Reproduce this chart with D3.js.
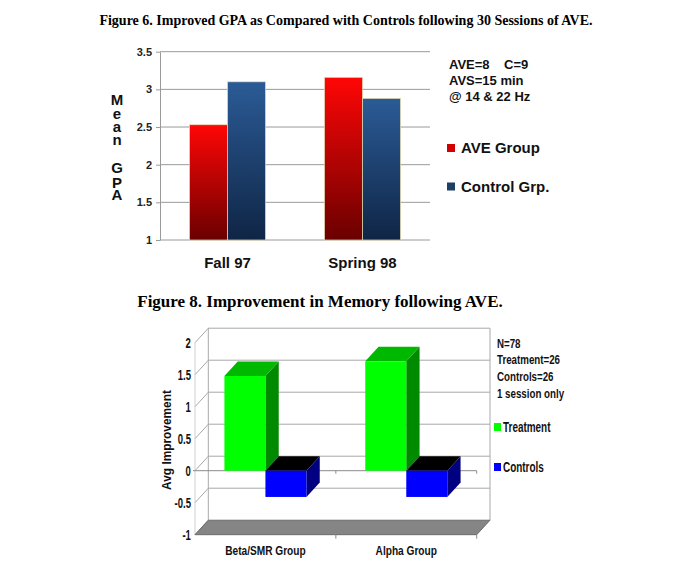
<!DOCTYPE html>
<html>
<head>
<meta charset="utf-8">
<script src="https://cdn.jsdelivr.net/npm/d3@7"></script>
<style>
  body { margin: 0; background: #fff; }
  svg { display: block; }
  .serif { font-family: "Liberation Serif", "Times New Roman", serif; font-weight: bold; }
  .sans { font-family: "Liberation Sans", Arial, sans-serif; font-weight: bold; }
</style>
</head>
<body>
<svg width="680" height="570"></svg>
<script>
// Figure 6 - средний GPA
const gpaTerms = ["Fall 97", "Spring 98"];
const gpaSeries = ["AVE Group", "Control Grp."];
const gpaAve = [2.53, 3.16];
const gpaControl = [3.10, 2.88];
const gpaTicks = [1, 1.5, 2, 2.5, 3, 3.5];
const gpaNotes = ["AVE=8    C=9", "AVS=15 min", "@ 14 & 22 Hz"];

// Figure 8 - память
const memGroups = ["Beta/SMR Group", "Alpha Group"];
const memSeries = ["Treatment", "Controls"];
const memTreatment = [1.48, 1.71];
const memControls = [-0.41, -0.41];
const memTicks = [-1, -0.5, 0, 0.5, 1, 1.5, 2];
const memNotes = ["N=78", "Treatment=26", "Controls=26", "1 session only"];

const svg = d3.select("svg");

// градиенты для первого графика
const defs = svg.append("defs");
function addGrad(id, top, bottom) {
    const g = defs.append("linearGradient").attr("id", id)
        .attr("x1", 0).attr("y1", 0).attr("x2", 0).attr("y2", 1);
    g.append("stop").attr("offset", "0%").attr("stop-color", top);
    g.append("stop").attr("offset", "100%").attr("stop-color", bottom);
}
addGrad("gRed", "#ff0606", "#6a0000");
addGrad("gBlue", "#2b5b96", "#0f2545");

// узкий шрифт: обычный Liberation Sans, сжатый по горизонтали
function narrow(parent, txt, x, y, size, sx, anchor, rot) {
    return parent.append("text").attr("class", "sans")
        .attr("transform", `translate(${x},${y})` + (rot ? ` rotate(${rot})` : "") + ` scale(${sx},1)`)
        .attr("text-anchor", anchor || "start")
        .style("font-size", size + "px").attr("fill", "#111")
        .text(txt);
}

// ---------- Figure 6 ----------
svg.append("text").attr("class", "serif")
    .attr("x", 346).attr("y", 25).attr("text-anchor", "middle")
    .style("font-size", "14px").text("Figure 6. Improved GPA as Compared with Controls following 30 Sessions of AVE.");

const area1 = {left: 160, right: 430, top: 51.7, bottom: 240};

const y1 = d3.scaleLinear().domain([1, 3.5]).range([area1.bottom, area1.top]);
const x1 = d3.scaleBand().domain(gpaTerms).range([area1.left, area1.right]);
const x1s = d3.scaleBand().domain(gpaSeries).range([0, x1.bandwidth()]).paddingOuter(0.776);

const g1 = svg.append("g");

// сетка
g1.selectAll(".grid1").data(gpaTicks).enter().append("line")
    .attr("x1", area1.left).attr("x2", area1.right)
    .attr("y1", d => y1(d)).attr("y2", d => y1(d))
    .attr("stroke", "#9a9a9a").attr("stroke-width", 1);

const axis1 = g1.append("g")
    .attr("transform", `translate(${area1.left},0)`)
    .call(d3.axisLeft(y1).tickValues(gpaTicks).tickFormat(d => String(d))
        .tickSize(4).tickSizeOuter(0).tickPadding(4));
axis1.select(".domain").attr("stroke", "#9a9a9a");
axis1.selectAll(".tick line").attr("stroke", "#9a9a9a");
axis1.selectAll("text").attr("class", "sans").style("font-size", "11px").attr("fill", "#222");

const bars1 = [];
gpaTerms.forEach((t, i) => {
    bars1.push({term: t, s: gpaSeries[0], v: gpaAve[i], fill: "url(#gRed)"});
    bars1.push({term: t, s: gpaSeries[1], v: gpaControl[i], fill: "url(#gBlue)"});
});

g1.selectAll(".bar1").data(bars1).enter().append("rect")
    .attr("x", d => x1(d.term) + x1s(d.s))
    .attr("width", x1s.bandwidth())
    .attr("y", d => y1(d.v))
    .attr("height", d => y1(1) - y1(d.v))
    .attr("fill", d => d.fill)
    .attr("stroke", "#e6ddb0").attr("stroke-width", 0.7);

g1.selectAll(".cat1").data(gpaTerms).enter().append("text").attr("class", "sans")
    .attr("x", d => x1(d) + x1.bandwidth() / 2).attr("y", 268)
    .attr("text-anchor", "middle").style("font-size", "15px").attr("fill", "#111")
    .text(d => d);

// вертикальная подпись оси - по буквам, одним текстом
const yLetters = ["M", "e", "a", "n", "G", "P", "A"];
const letterY = [105, 119, 132, 145, 173, 188, 200];
g1.append("text").attr("class", "sans")
    .attr("text-anchor", "middle").style("font-size", "15px").attr("fill", "#111")
    .selectAll("tspan").data(yLetters).enter().append("tspan")
    .attr("x", 117).attr("y", (d, i) => letterY[i])
    .text(d => d);

g1.selectAll(".note1").data(gpaNotes).enter().append("text").attr("class", "sans")
    .attr("x", 449).attr("y", (d, i) => 69 + i * 16)
    .style("font-size", "13px").attr("fill", "#111")
    .style("white-space", "pre").attr("xml:space", "preserve")
    .text(d => d);

const leg1Colors = ["#d40000", "#1f3f66"];
gpaSeries.forEach((s, i) => {
    g1.append("rect").attr("x", 447).attr("y", 144 + i * 38.5).attr("width", 8).attr("height", 8)
        .attr("fill", leg1Colors[i]);
    g1.append("text").attr("class", "sans")
        .attr("x", 461).attr("y", 153 + i * 38.5)
        .style("font-size", "15px").attr("fill", "#111").text(s);
});

// ---------- Figure 8 ----------
svg.append("text").attr("class", "serif")
    .attr("x", 320).attr("y", 307).attr("text-anchor", "middle")
    .style("font-size", "17px").text("Figure 8. Improvement in Memory following AVE.");

const area2 = {left: 195, right: 476.7, top: 342.7, bottom: 534.7};
const DX = 13.3, DY = -14.5;  // глубина 3D

const y2 = d3.scaleLinear().domain([-1, 2]).range([area2.bottom, area2.top]);
const x2 = d3.scaleBand().domain(memGroups).range([area2.left, area2.right]);
const x2s = d3.scaleBand().domain(memSeries).range([0, x2.bandwidth()]).paddingOuter(0.717);

const g2 = svg.append("g");
const gridCol = "#a8a8a8";

// задняя стенка
g2.selectAll(".back").data(memTicks.filter(d => d > -1)).enter().append("line")
    .attr("x1", area2.left + DX).attr("x2", area2.right + DX)
    .attr("y1", d => y2(d) + DY).attr("y2", d => y2(d) + DY)
    .attr("stroke", gridCol);
g2.append("line").attr("x1", area2.left + DX).attr("x2", area2.left + DX)
    .attr("y1", y2(2) + DY).attr("y2", y2(-1) + DY).attr("stroke", gridCol);
g2.append("line").attr("x1", area2.right + DX).attr("x2", area2.right + DX)
    .attr("y1", y2(2) + DY).attr("y2", y2(-1) + DY).attr("stroke", gridCol);
// боковая стенка
g2.selectAll(".side").data(memTicks).enter().append("line")
    .attr("x1", area2.left).attr("x2", area2.left + DX)
    .attr("y1", d => y2(d)).attr("y2", d => y2(d) + DY)
    .attr("stroke", gridCol);
g2.append("line").attr("x1", area2.left).attr("x2", area2.left)
    .attr("y1", y2(2)).attr("y2", y2(-1)).attr("stroke", "#d0d0d0");

// пол
const floorPts = [[area2.left, y2(-1)], [area2.right, y2(-1)],
                  [area2.right + DX, y2(-1) + DY], [area2.left + DX, y2(-1) + DY]];
g2.append("polygon").attr("points", floorPts.map(p => p.join(",")).join(" "))
    .attr("fill", "#858585").attr("stroke", "#5a5a5a").attr("stroke-width", 0.8);

// подписи оси Y
const axis2 = g2.append("g")
    .attr("transform", `translate(${area2.left},0)`)
    .call(d3.axisLeft(y2).tickValues(memTicks).tickFormat(d => String(d)).tickSize(0).tickPadding(6));
axis2.select(".domain").remove();
axis2.selectAll("text").attr("class", "sans").style("font-size", "14px").attr("fill", "#111")
    .attr("transform", "scale(0.68,1)");

// линия нуля спереди
g2.append("line").attr("x1", area2.left - 2).attr("x2", area2.right)
    .attr("y1", y2(0)).attr("y2", y2(0)).attr("stroke", "#8a8a8a");
const sepTicks = [area2.left + x2.step(), area2.right];
g2.selectAll(".sep").data(sepTicks).enter().append("line")
    .attr("x1", d => d).attr("x2", d => d)
    .attr("y1", y2(0)).attr("y2", y2(0) + 3).attr("stroke", "#8a8a8a");
g2.selectAll(".sepb").data(sepTicks).enter().append("line")
    .attr("x1", d => d).attr("x2", d => d)
    .attr("y1", y2(-1)).attr("y2", y2(-1) + 4).attr("stroke", "#8a8a8a");

// 3D столбики
const bars2 = [];
memGroups.forEach((gname, i) => {
    bars2.push({g: gname, s: memSeries[0], v: memTreatment[i], front: "#00ff00", side: "#008a00", top: "#00b800"});
    bars2.push({g: gname, s: memSeries[1], v: memControls[i], front: "#0000ff", side: "#000080", top: "#000000"});
});

const box = g2.selectAll(".box").data(bars2).enter().append("g");
box.each(function(d) {
    const g = d3.select(this);
    const xL = x2(d.g) + x2s(d.s);
    const xR = xL + x2s.bandwidth();
    const yT = Math.min(y2(d.v), y2(0));
    const yB = Math.max(y2(d.v), y2(0));
    const pts = a => a.map(p => p.join(",")).join(" ");
    g.append("polygon")
        .attr("points", pts([[xR, yT], [xR + DX, yT + DY], [xR + DX, yB + DY], [xR, yB]]))
        .attr("fill", d.side);
    g.append("polygon")
        .attr("points", pts([[xL, yT], [xL + DX, yT + DY], [xR + DX, yT + DY], [xR, yT]]))
        .attr("fill", d.top);
    g.append("rect").attr("x", xL).attr("y", yT)
        .attr("width", xR - xL).attr("height", yB - yT).attr("fill", d.front);
});

memGroups.forEach(gname => {
    narrow(g2, gname, x2(gname) + x2.bandwidth() / 2, 554.5, 13, 0.78, "middle");
});

narrow(g2, "Avg Improvement", 170.5, 440, 13.5, 0.88, "middle", -90);

memNotes.forEach((t, i) => {
    narrow(g2, t, 497, 347.5 + i * 16.7, 12.5, 0.78);
});

const leg2Colors = ["#00ff00", "#0000ff"];
memSeries.forEach((s, i) => {
    g2.append("rect").attr("x", 494).attr("y", 423 + i * 40).attr("width", 7).attr("height", 8)
        .attr("fill", leg2Colors[i]);
    narrow(g2, s, 503, 432 + i * 40, 14, 0.71);
});
</script>
</body>
</html>
